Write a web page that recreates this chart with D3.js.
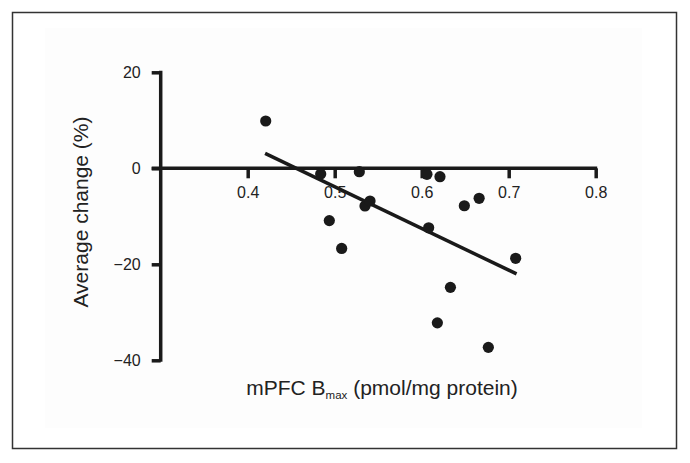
<!DOCTYPE html>
<html><head><meta charset="utf-8">
<script src="https://cdn.jsdelivr.net/npm/d3@7"></script>
<style>body{margin:0;background:#fff;}svg{display:block;font-family:"Liberation Sans",Arial,Helvetica,sans-serif;}
.tick text{font-size:16px;fill:#222;font-family:"Liberation Sans",Arial,Helvetica,sans-serif;}</style>
</head><body>
<svg id="chart" width="690" height="463"></svg>
<script>
const bmax = [0.4207,0.4839,0.4938,0.508,0.5283,0.5348,0.5406,0.606,0.608,0.618,0.621,0.633,0.649,0.666,0.6766,0.708];
const change = [9.85,-1.19,-10.9,-16.7,-0.71,-7.85,-6.81,-1.25,-12.4,-32.2,-1.75,-24.8,-7.8,-6.25,-37.3,-18.75];
const fitX = [0.420,0.709];
const fitY = [3.1,-22.0];
const xTicks = [0.4,0.5,0.6,0.7,0.8];
const yTicks = [20,0,-20,-40];

const svg = d3.select("#chart");
svg.append("rect").attr("x",12.5).attr("y",12.5).attr("width",664).attr("height",436)
  .attr("fill","#fff").attr("stroke","#333").attr("stroke-width",1.5);
svg.append("rect").attr("x",45).attr("y",28).attr("width",597).attr("height",400).attr("fill","#fdfdfd");

const x = d3.scaleLinear().domain([0.3,0.8]).range([160.7,595.7]);
const y = d3.scaleLinear().domain([-40,20]).range([360.3,72.3]);

// y axis
const yAxis = svg.append("g").attr("transform",`translate(${x(0.3)},0)`)
  .call(d3.axisLeft(y).tickValues(yTicks).tickSize(9).tickPadding(11).tickFormat(d=>d<0?"\u2212"+Math.abs(d):d));
yAxis.attr("font-size",null).attr("font-family",null);
yAxis.select(".domain").attr("d",`M0,${y(20)-1.5}V${y(-40)+1.5}`).attr("stroke","#1a1a1a").attr("stroke-width",3.5);
yAxis.selectAll(".tick line").attr("stroke","#1a1a1a").attr("stroke-width",3.5);

// x axis at y=0
const xAxis = svg.append("g").attr("transform",`translate(0,${y(0)})`)
  .call(d3.axisBottom(x).tickValues(xTicks).tickSize(10).tickPadding(8).tickFormat(d3.format(".1f")));
xAxis.attr("font-size",null).attr("font-family",null);
xAxis.select(".domain").attr("d",`M${x(0.3)-9},0H${x(0.8)+1.5}`).attr("stroke","#1a1a1a").attr("stroke-width",3.5);
xAxis.selectAll(".tick line").attr("stroke","#1a1a1a").attr("stroke-width",3.5);

// fit line
svg.append("line").attr("x1",x(fitX[0])).attr("y1",y(fitY[0])).attr("x2",x(fitX[1])).attr("y2",y(fitY[1]))
  .attr("stroke","#1a1a1a").attr("stroke-width",3.5);

// points
svg.append("g").selectAll("circle").data(bmax.map((v,i)=>[v,change[i]])).join("circle")
  .attr("cx",d=>x(d[0])).attr("cy",d=>y(d[1])).attr("r",5.6).attr("fill","#1a1a1a");

// axis titles
svg.append("text").attr("transform","translate(88,212) rotate(-90)").attr("text-anchor","middle")
  .attr("font-size",21).attr("fill","#222").text("Average change (%)");
const xt = svg.append("text").attr("x",382).attr("y",395).attr("text-anchor","middle").attr("font-size",21).attr("fill","#222");
xt.append("tspan").text("mPFC B");
xt.append("tspan").attr("font-size",11.5).attr("dy",4).text("max");
xt.append("tspan").attr("dy",-4).text(" (pmol/mg protein)");
</script>
</body></html>
